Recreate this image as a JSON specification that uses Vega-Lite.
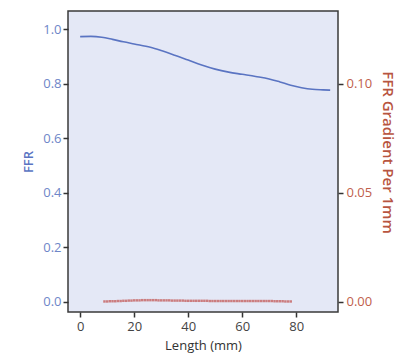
{
  "$schema": "https://vega.github.io/schema/vega-lite/v6.json",
  "width": 270,
  "height": 301,
  "autosize": "none",
  "padding": {"left": 68, "top": 11, "right": 67, "bottom": 45},
  "background": "white",
  "config": {
    "font": "Open Sans",
    "view": {"fill": "#e4e8f6", "stroke": "#3a3a3a", "strokeWidth": 1.5},
    "axis": {"grid": false, "domain": false, "tickSize": 5, "tickWidth": 1.5, "tickColor": "#333333", "labelFontSize": 11, "titleFontSize": 11, "titleFontWeight": "normal"}
  },
  "datasets": {
    "ffr": [
      {"length": 0, "ffr": 0.972},
      {"length": 4, "ffr": 0.973},
      {"length": 8, "ffr": 0.970},
      {"length": 12, "ffr": 0.962},
      {"length": 16, "ffr": 0.953},
      {"length": 20, "ffr": 0.945},
      {"length": 26, "ffr": 0.933},
      {"length": 30, "ffr": 0.921},
      {"length": 35, "ffr": 0.904},
      {"length": 40, "ffr": 0.886},
      {"length": 45, "ffr": 0.868},
      {"length": 50, "ffr": 0.853},
      {"length": 55, "ffr": 0.842},
      {"length": 60, "ffr": 0.834},
      {"length": 65, "ffr": 0.826},
      {"length": 70, "ffr": 0.817},
      {"length": 74, "ffr": 0.806},
      {"length": 78, "ffr": 0.794},
      {"length": 82, "ffr": 0.785},
      {"length": 86, "ffr": 0.779},
      {"length": 90, "ffr": 0.777},
      {"length": 92.6, "ffr": 0.776}
    ],
    "grad": [
      {"length": 9, "g": 0.0002}, {"length": 10, "g": 0.0002}, {"length": 11, "g": 0.0003},
      {"length": 12, "g": 0.0003}, {"length": 13, "g": 0.0003}, {"length": 14, "g": 0.0004},
      {"length": 15, "g": 0.0004}, {"length": 16, "g": 0.0005}, {"length": 17, "g": 0.0005},
      {"length": 18, "g": 0.0006}, {"length": 19, "g": 0.0006}, {"length": 20, "g": 0.0007},
      {"length": 21, "g": 0.0007}, {"length": 22, "g": 0.0007}, {"length": 23, "g": 0.0008},
      {"length": 24, "g": 0.0008}, {"length": 25, "g": 0.0008}, {"length": 26, "g": 0.0008},
      {"length": 27, "g": 0.0008}, {"length": 28, "g": 0.0008}, {"length": 29, "g": 0.0007},
      {"length": 30, "g": 0.0007}, {"length": 31, "g": 0.0007}, {"length": 32, "g": 0.0007},
      {"length": 33, "g": 0.0007}, {"length": 34, "g": 0.0006}, {"length": 35, "g": 0.0006},
      {"length": 36, "g": 0.0006}, {"length": 37, "g": 0.0006}, {"length": 38, "g": 0.0006},
      {"length": 39, "g": 0.0005}, {"length": 40, "g": 0.0005}, {"length": 41, "g": 0.0005},
      {"length": 42, "g": 0.0005}, {"length": 43, "g": 0.0005}, {"length": 44, "g": 0.0005},
      {"length": 45, "g": 0.0005}, {"length": 46, "g": 0.0005}, {"length": 47, "g": 0.0005},
      {"length": 48, "g": 0.0004}, {"length": 49, "g": 0.0004}, {"length": 50, "g": 0.0004},
      {"length": 51, "g": 0.0004}, {"length": 52, "g": 0.0004}, {"length": 53, "g": 0.0004},
      {"length": 54, "g": 0.0004}, {"length": 55, "g": 0.0004}, {"length": 56, "g": 0.0004},
      {"length": 57, "g": 0.0004}, {"length": 58, "g": 0.0004}, {"length": 59, "g": 0.0004},
      {"length": 60, "g": 0.0004}, {"length": 61, "g": 0.0004}, {"length": 62, "g": 0.0004},
      {"length": 63, "g": 0.0004}, {"length": 64, "g": 0.0004}, {"length": 65, "g": 0.0004},
      {"length": 66, "g": 0.0004}, {"length": 67, "g": 0.0004}, {"length": 68, "g": 0.0004},
      {"length": 69, "g": 0.0004}, {"length": 70, "g": 0.0004}, {"length": 71, "g": 0.0004},
      {"length": 72, "g": 0.0003}, {"length": 73, "g": 0.0003}, {"length": 74, "g": 0.0003},
      {"length": 75, "g": 0.0003}, {"length": 76, "g": 0.0002}, {"length": 77, "g": 0.0002},
      {"length": 78, "g": 0.0002}
    ]
  },
  "encoding": {
    "x": {
      "field": "length", "type": "quantitative",
      "scale": {"domain": [-4.5, 95.5], "nice": false, "zero": false},
      "axis": {"values": [0, 20, 40, 60, 80], "title": "Length (mm)", "labelColor": "#444444", "titleColor": "#333333", "labelFontSize": 13, "titleFontSize": 13, "titlePadding": 6, "labelPadding": 3}
    }
  },
  "layer": [
    {
      "data": {"name": "ffr"},
      "mark": {"type": "line", "color": "#5a74c2", "strokeWidth": 1.6, "interpolate": "monotone"},
      "encoding": {
        "y": {
          "field": "ffr", "type": "quantitative",
          "scale": {"domain": [-0.037, 1.066], "nice": false, "zero": false},
          "axis": {"values": [0, 0.2, 0.4, 0.6, 0.8, 1.0], "format": ".1f", "title": "FFR", "labelColor": "#6e86c8", "titleColor": "#5a74c2", "labelFontSize": 13, "titleFontSize": 13, "titleFontWeight": 600, "labelPadding": 2, "titlePadding": 7, "orient": "left"}
        }
      }
    },
    {
      "data": {"name": "grad"},
      "mark": {"type": "point", "shape": "square", "filled": true, "size": 6, "color": "#c0504d", "opacity": 0.7},
      "encoding": {
        "y": {
          "field": "g", "type": "quantitative",
          "scale": {"domain": [-0.004625, 0.13325], "nice": false, "zero": false},
          "axis": {"values": [0, 0.05, 0.1], "format": ".2f", "title": "FFR Gradient Per 1mm", "orient": "right", "labelColor": "#c0604c", "titleColor": "#b8553f", "labelFontSize": 13, "labelPadding": 3, "titlePadding": 8, "titleAngle": 90, "titleFontSize": 15, "titleFontWeight": 600, "titleY": 141}
        }
      }
    }
  ],
  "resolve": {"scale": {"y": "independent"}}
}
